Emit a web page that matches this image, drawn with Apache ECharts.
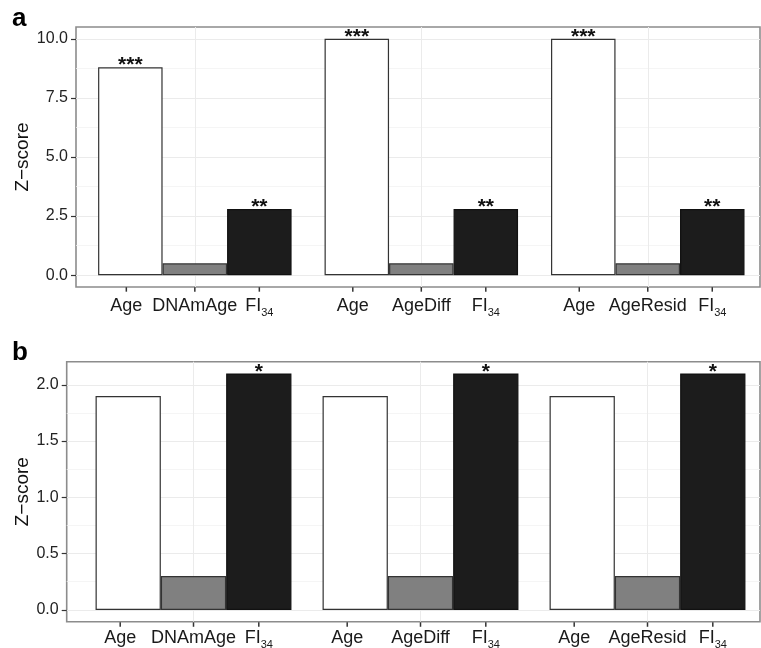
<!DOCTYPE html>
<html><head><meta charset="utf-8">
<script src="https://cdn.jsdelivr.net/npm/echarts@6/dist/echarts.min.js"></script>
<style>html,body{margin:0;padding:0;background:#fff}#c{width:761px;height:648px}</style>
</head><body><div id="c"></div>
<script>
// ---------- data ----------
const groupNames = ['DNAmAge', 'AgeDiff', 'AgeResid'];
const firstBarName = 'Age';
const lastBarName = 'FI34';

const ageA = [8.8, 10.0, 10.0];
const midA = [0.5, 0.5, 0.5];
const fiA  = [2.8, 2.8, 2.8];
const ageSigA = ['***', '***', '***'];
const midSigA = ['', '', ''];
const fiSigA  = ['**', '**', '**'];

const ageB = [1.9, 1.9, 1.9];
const midB = [0.3, 0.3, 0.3];
const fiB  = [2.1, 2.1, 2.1];
const ageSigB = ['', '', ''];
const midSigB = ['', '', ''];
const fiSigB  = ['*', '*', '*'];

const yTicksA = [0, 2.5, 5, 7.5, 10];
const yMinorA = [1.25, 3.75, 6.25, 8.75];
const yRangeA = [-0.5, 10.5];
const yTicksB = [0, 0.5, 1, 1.5, 2];
const yMinorB = [0.25, 0.75, 1.25, 1.75];
const yRangeB = [-0.105, 2.205];

const yTitle = 'Z\u2212score';
const panelLetters = ['a', 'b'];

// ---------- layout / style ----------
const FONT = '"Liberation Sans", Arial, Helvetica, sans-serif';
const layoutA = {
  frame: {left: 76, top: 27, width: 684, height: 260},
  bars: {left: 81.6, top: 27, width: 689.7, height: 260},
  barWidth: 64.5, labelDist: 12, nameGap: 44, ageOffset: -4, nLH: 28,
  letter: {left: 12, top: 6}
};
const layoutB = {
  frame: {left: 66.7, top: 361.7, width: 693.3, height: 260},
  bars: {left: 80, top: 361.7, width: 684, height: 260},
  barWidth: 65.3, labelDist: 12.4, nameGap: 34, ageOffset: -8, nLH: 22,
  letter: {left: 12, top: 340}
};

const panels = [
  {L: layoutA, vals: [ageA, midA, fiA], sigs: [ageSigA, midSigA, fiSigA], ticks: yTicksA, minor: yMinorA, range: yRangeA},
  {L: layoutB, vals: [ageB, midB, fiB], sigs: [ageSigB, midSigB, fiSigB], ticks: yTicksB, minor: yMinorB, range: yRangeB}
];

const roleStyles = [
  {color: '#ffffff', borderColor: '#333333'},
  {color: '#808080', borderColor: '#333333'},
  {color: '#1c1c1c', borderColor: '#111111'}
];

const grids = [], xAxes = [], yAxes = [], series = [], titles = [];

panels.forEach((P, k) => {
  const L = P.L;
  grids.push(Object.assign({show: true, borderColor: '#8c8c8c', borderWidth: 1.6, backgroundColor: '#fff'}, L.frame));
  grids.push(Object.assign({show: false}, L.bars));

  xAxes.push({type: 'value', gridIndex: 2 * k, show: false});
  xAxes.push({
    type: 'category', gridIndex: 2 * k + 1, data: groupNames,
    axisLine: {show: false}, axisTick: {show: false}, axisLabel: {show: false},
    splitLine: {show: true, alignWithLabel: true, lineStyle: {color: '#ebebeb', width: 1}}
  });

  yAxes.push({
    type: 'value', gridIndex: 2 * k, min: P.range[0], max: P.range[1],
    name: yTitle, nameLocation: 'middle', nameRotate: 90, nameGap: L.nameGap, nameMoveOverlap: false,
    nameTextStyle: {fontSize: 19, color: '#111', fontFamily: FONT},
    axisLine: {show: false},
    axisTick: {show: true, length: 5, customValues: P.ticks, lineStyle: {color: '#333', width: 1.2}},
    axisLabel: {show: true, customValues: P.ticks, margin: 8, fontSize: 16, color: '#222', fontFamily: FONT,
      formatter: v => Number(v).toFixed(1)},
    splitLine: {show: true, lineStyle: {color: '#ebebeb', width: 1.2}}
  });
  yAxes.push({
    type: 'value', gridIndex: 2 * k, min: P.range[0], max: P.range[1], position: 'left',
    axisLine: {show: false}, axisTick: {show: false, customValues: P.minor}, axisLabel: {show: false},
    splitLine: {show: true, lineStyle: {color: '#f2f2f2', width: 0.8}}
  });
  yAxes.push({
    type: 'value', gridIndex: 2 * k + 1, min: P.range[0], max: P.range[1], show: false
  });

  P.vals.forEach((vals, r) => {
    const rich = {
      t: {width: 1.5, height: 4.5, lineHeight: 4.5, backgroundColor: '#333'},
      n: {fontSize: 18, color: '#1a1a1a', fontFamily: FONT, lineHeight: L.nLH},
      s: {fontSize: 11, color: '#1a1a1a', fontFamily: FONT, lineHeight: 8, verticalAlign: 'top',
          padding: [L.nLH / 2 + 1.4, 0, 0, 0]}
    };
    let formatter;
    if (r === 0) formatter = () => '{t|}\n{n|' + firstBarName + '}';
    else if (r === 1) formatter = p => '{t|}\n{n|' + p.name + '}';
    else formatter = () => '{t|}\n{n|' + lastBarName.slice(0, 2) + '}{s|' + lastBarName.slice(2) + '}';

    const mpData = [];
    P.sigs[r].forEach((s, i) => { if (s) mpData.push({name: s, coord: [i, vals[i]]}); });

    series.push({
      type: 'bar', xAxisIndex: 2 * k + 1, yAxisIndex: 3 * k + 2,
      data: vals, barWidth: L.barWidth, barGap: '0%',
      silent: true, animation: false,
      itemStyle: {color: roleStyles[r].color, borderColor: roleStyles[r].borderColor, borderWidth: 1.2},
      label: {show: true, position: 'bottom', distance: L.labelDist, offset: [r === 0 ? L.ageOffset : 0, 0],
        formatter: formatter, rich: rich},
      markPoint: {
        symbol: 'circle', symbolSize: 0, silent: true, animation: false,
        data: mpData,
        label: {show: true, position: 'top', distance: -9, formatter: p => p.name,
          fontSize: 21, fontWeight: 'bold', color: '#111', fontFamily: FONT}
      }
    });
  });

  titles.push({text: panelLetters[k], left: L.letter.left, top: L.letter.top, padding: 0,
    textStyle: {fontSize: 26, fontWeight: 'bold', color: '#000', fontFamily: FONT}});
});

const chart = echarts.init(document.getElementById('c'), null, {renderer: 'canvas'});
chart.setOption({
  animation: false,
  backgroundColor: '#ffffff',
  title: titles,
  grid: grids,
  xAxis: xAxes,
  yAxis: yAxes,
  series: series
});
</script></body></html>
